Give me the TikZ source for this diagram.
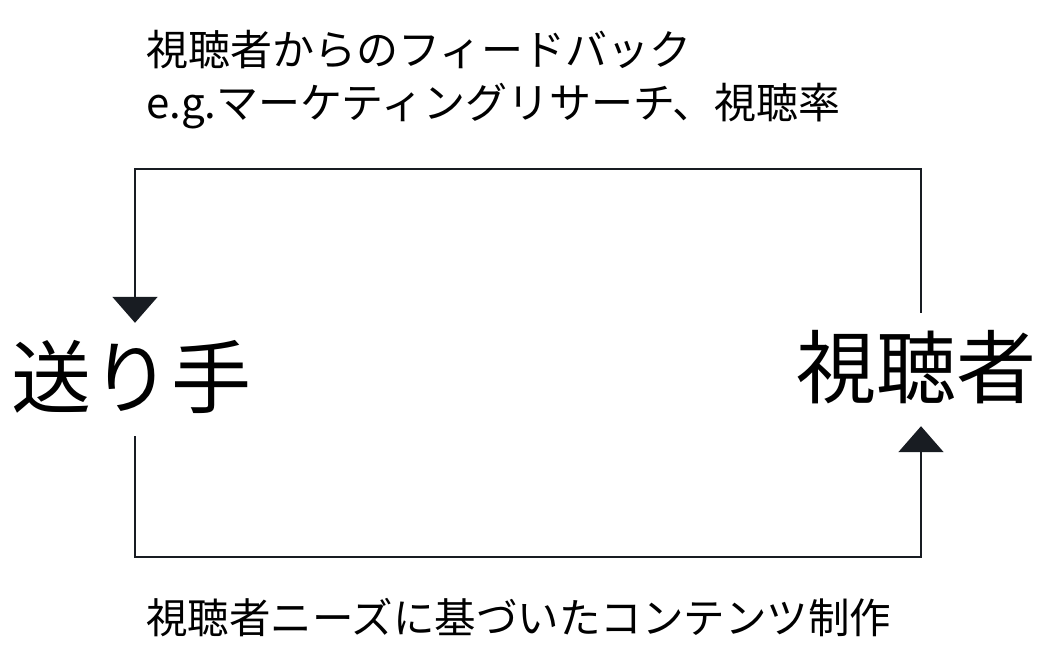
\documentclass[tikz,border=0pt]{standalone}
\usepackage{fontspec}
\setmainfont{Noto Sans CJK JP}
\usetikzlibrary{arrows.meta,calc}
\definecolor{linec}{HTML}{181C22}
\tikzset{
  conn/.style={draw=linec, line width=2pt},
  arr/.style={conn, -{Triangle[width=45pt,length=26pt]}},
  bigl/.style={font=\fontsize{80pt}{90pt}\selectfont, inner sep=0pt, anchor=base,
    text height=84pt, text depth=29pt},
  smalll/.style={font=\fontsize{42pt}{53pt}\selectfont, inner sep=0pt, align=left},
  bottoml/.style={font=\fontsize{41.5pt}{50pt}\selectfont, inner sep=0pt,
    text height=35pt, text depth=3pt},
}
\begin{document}
\begin{tikzpicture}[x=1pt,y=-1pt]
\useasboundingbox (0,0) rectangle (1058,660);
\node[bigl] (sender) at (132,407) {送り手};
\node[bigl] (viewer) at (916,397) {視聴者};
\coordinate (tl) at (135,169);
\coordinate (tr) at (921,169);
\coordinate (bl) at (135,557);
\coordinate (br) at (921,557);
\draw[arr] ($(viewer.north)+(5,0)$) -- (tr) -- (tl) -- ($(sender.north)+(3,0)$);
\draw[arr] ($(sender.south)+(3,0)$) -- (bl) -- (br) -- ($(viewer.south)+(5,0)$);
\node[smalll, anchor=north west] (fb) at (146,30) {視聴者からのフィードバック\\e.g.マーケティングリサーチ、視聴率};
\node[bottoml, anchor=west] (prod) at (146,617) {視聴者ニーズに基づいたコンテンツ制作};
\end{tikzpicture}
\end{document}
